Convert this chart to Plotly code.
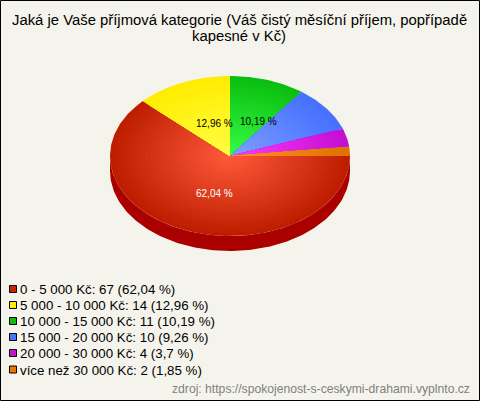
import numpy as np
import plotly.graph_objects as go

title_lines = ["Jaká je Vaše příjmová kategorie (Váš čistý měsíční příjem, popřípadě", "kapesné v Kč)"]
categories = ["0 - 5 000 Kč", "5 000 - 10 000 Kč", "10 000 - 15 000 Kč", "15 000 - 20 000 Kč", "20 000 - 30 000 Kč", "více než 30 000 Kč"]
counts = [67, 14, 11, 10, 4, 2]
percent_labels = ["62,04 %", "12,96 %", "10,19 %", "9,26 %", "3,7 %", "1,85 %"]
swatch_colors = ["#CC2200", "#FFEE00", "#11BB11", "#4477FF", "#CC11CC", "#EE7700"]
edge_colors = [(190, 30, 0), (255, 236, 0), (10, 190, 15), (70, 112, 255), (195, 15, 210), (225, 112, 0)]
center_colors = [(255, 92, 60), (255, 255, 70), (55, 255, 70), (128, 160, 255), (255, 60, 255), (255, 150, 40)]
side_color = "#AA0000"
source_text = "zdroj: https://spokojenost-s-ceskymi-drahami.vyplnto.cz"

BG = "#F5F4EC"
CX, CY, RX, RY, DEPTH = 230, 156, 120, 80, 15
RINGS = 24

fig = go.Figure()
def poly(xs, ys, color):
    fig.add_trace(go.Scatter(x=xs, y=ys, mode="lines", fill="toself", fillcolor=color,
                             line=dict(width=0), hoverinfo="skip", showlegend=False))

fractions = np.array(counts) / sum(counts)
ends = np.cumsum(fractions) * 2 * np.pi
starts = np.concatenate([[0], ends[:-1]])

# side wall (front half only)
th = np.linspace(0, np.pi, 181)
xs = CX + RX * np.cos(th)
ys = CY + RY * np.sin(th)
poly(np.concatenate([xs, xs[::-1]]), np.concatenate([ys, ys[::-1] + DEPTH]), side_color)

# top surface: nested wedges painted from the rim inward give the radial shading
for a0, a1, ce, cc in zip(starts, ends, edge_colors, center_colors):
    n = max(3, int((a1 - a0) * 60))
    th = np.linspace(a0, a1, n)
    for i in range(RINGS):
        t = 1 - i / RINGS
        mix = [round(c + (e - c) * t) for e, c in zip(ce, cc)]
        xs = np.concatenate([[CX], CX + t * RX * np.cos(th), [CX]])
        ys = np.concatenate([[CY], CY + t * RY * np.sin(th), [CY]])
        poly(xs, ys, f"rgb({mix[0]},{mix[1]},{mix[2]})")

FONT = "Liberation Sans"
ann = []
def text(x, y, s, size, color="#000000", anchor="left"):
    ann.append(dict(x=x, y=y, xref="x", yref="y", text=s, showarrow=False, xanchor=anchor, yanchor="middle",
                    font=dict(family=FONT, size=size, color=color), borderpad=0, borderwidth=0))

text(239, 20, title_lines[0], 14.85, "#000000", "center")
text(239, 35.5, title_lines[1], 14.85, "#000000", "center")
text(214.5, 193.5, percent_labels[0], 10, "#FFFFFF", "center")
text(214, 123.5, percent_labels[1], 10, "#000000", "center")
text(258, 121.5, percent_labels[2], 10, "#000000", "center")
legend_y = [289, 305, 321, 337, 353, 369.5]
for c, n, p, y in zip(categories, counts, percent_labels, legend_y):
    text(20, y + 0.5, f"{c}: {n} ({p})", 13.3, "#000000", "left")
text(470, 389, source_text, 12.16, "#808080", "right")

fig.add_trace(go.Scatter(x=[13] * len(legend_y), y=legend_y, mode="markers", hoverinfo="skip", showlegend=False,
                         marker=dict(symbol="square", size=7, color=swatch_colors, line=dict(width=1, color="#000000"))))

fig.update_layout(
    width=480, height=401, margin=dict(l=0, r=0, t=0, b=0), paper_bgcolor=BG, plot_bgcolor=BG,
    xaxis=dict(range=[0, 480], visible=False, fixedrange=True),
    yaxis=dict(range=[401, 0], visible=False, fixedrange=True),
    annotations=ann,
    shapes=[dict(type="rect", x0=0.5, y0=0.5, x1=479.5, y1=400.5, xref="x", yref="y", line=dict(color="#000000", width=1))],
)
fig.write_html("out.html", config={"displayModeBar": False},
               post_script="document.body.style.margin='0';document.documentElement.style.overflow='hidden';")
